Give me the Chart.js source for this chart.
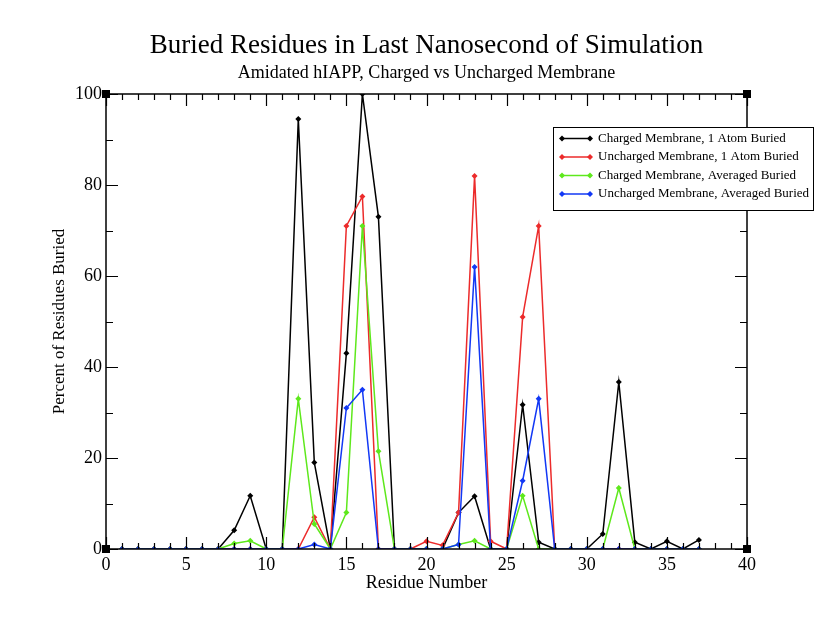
<!DOCTYPE html>
<html>
<head>
<meta charset="utf-8">
<script src="https://cdn.jsdelivr.net/npm/chart.js@4.4.1/dist/chart.umd.min.js"></script>
<style>
  html, body { margin: 0; padding: 0; background: #fff; }
  #wrap { width: 821px; height: 640px; }
</style>
</head>
<body>
<div id="wrap"><canvas id="buriedChart"></canvas></div>
<script>
        const residues = [1, 2, 3, 4, 5, 6, 7, 8, 9, 10, 11, 12, 13, 14, 15, 16, 17, 18, 19,
            20, 21, 22, 23, 24, 25, 26, 27, 28, 29, 30, 31, 32, 33, 34, 35, 36, 37];
        const chargedOneAtom = [0, 0, 0, 0, 0, 0, 0, 4.1, 11.7, 0, 0, 94.5, 19, 0, 43, 100, 73, 0, 0,
            0, 0, 8, 11.6, 0, 0, 31.7, 1.5, 0, 0, 0, 3.3, 36.7, 1.5, 0, 1.7, 0, 2];
        const unchargedOneAtom = [0, 0, 0, 0, 0, 0, 0, 0, 0, 0, 0, 0, 7, 0, 71, 77.5, 0, 0, 0,
            1.7, 0.8, 8, 82, 1.7, 0, 51, 71, 0, 0, 0, 0, 0, 0, 0, 0, 0, 0];
        const chargedAveraged = [0, 0, 0, 0, 0, 0, 0, 1.2, 1.8, 0, 0, 33, 5.5, 0, 8, 71, 21.5, 0, 0,
            0, 0, 1, 1.8, 0, 0, 11.7, 0, 0, 0, 0, 0, 13.4, 0, 0, 0, 0, 0];
        const unchargedAveraged = [0, 0, 0, 0, 0, 0, 0, 0, 0, 0, 0, 0, 1, 0, 31, 35, 0, 0, 0,
            0, 0, 1, 62, 0, 0, 15, 33, 0, 0, 0, 0, 0, 0, 0, 0, 0, 0];
        const seriesLabels = ['Charged Membrane, 1 Atom Buried', 'Uncharged Membrane, 1 Atom Buried',
            'Charged Membrane, Averaged Buried', 'Uncharged Membrane, Averaged Buried'];
        const seriesColors = ['#000000', '#ec2b2b', '#5ee81c', '#1238f5'];
        const xTicks = [0, 5, 10, 15, 20, 25, 30, 35, 40];
        const yTicks = [0, 20, 40, 60, 80, 100];

        const serif = '"Liberation Serif", "DejaVu Serif", serif';

        function toPoints(values) {
            return residues.map((r, i) => ({ x: r, y: values[i] }));
        }

        // xmgrace style frame: inward ticks on all four sides, corner squares
        const framePlugin = {
            id: 'frame',
            afterDatasetsDraw(chart) {
                const { ctx, chartArea: a, scales: { x, y } } = chart;
                ctx.save();
                ctx.strokeStyle = '#000';
                ctx.lineWidth = 1.5;
                ctx.strokeRect(a.left, a.top, a.right - a.left, a.bottom - a.top);
                ctx.lineWidth = 1.2;
                ctx.beginPath();
                for (let v = 0; v <= 40; v++) {
                    const px = Math.round(x.getPixelForValue(v)) + 0.5;
                    const len = v % 5 === 0 ? 12 : 6;
                    ctx.moveTo(px, a.bottom); ctx.lineTo(px, a.bottom - len);
                    ctx.moveTo(px, a.top); ctx.lineTo(px, a.top + len);
                }
                for (let v = 0; v <= 100; v += 10) {
                    const py = Math.round(y.getPixelForValue(v)) + 0.5;
                    const len = v % 20 === 0 ? 12 : 7;
                    ctx.moveTo(a.left, py); ctx.lineTo(a.left + len, py);
                    ctx.moveTo(a.right, py); ctx.lineTo(a.right - len, py);
                }
                ctx.stroke();
                ctx.fillStyle = '#000';
                [[a.left, a.top], [a.right, a.top], [a.left, a.bottom], [a.right, a.bottom]].forEach(c => {
                    ctx.fillRect(c[0] - 4, c[1] - 4, 8, 8);
                });
                ctx.restore();
            }
        };

        // boxed legend placed inside the upper right of the plot
        const boxLegendPlugin = {
            id: 'boxLegend',
            afterDraw(chart) {
                const ctx = chart.ctx;
                const left = 553, top = 127, w = 260, h = 83;
                ctx.save();
                ctx.fillStyle = '#fff';
                ctx.fillRect(left, top, w, h);
                ctx.strokeStyle = '#000';
                ctx.lineWidth = 1;
                ctx.strokeRect(left + 0.5, top + 0.5, w, h);
                ctx.font = '13px ' + serif;
                ctx.textBaseline = 'middle';
                chart.data.datasets.forEach((ds, i) => {
                    const yy = top + 11.5 + i * 18.5;
                    ctx.strokeStyle = ds.borderColor;
                    ctx.lineWidth = 1.5;
                    ctx.beginPath();
                    ctx.moveTo(562, yy); ctx.lineTo(590, yy);
                    ctx.stroke();
                    ctx.fillStyle = ds.borderColor;
                    [562, 590].forEach(px => {
                        ctx.beginPath();
                        ctx.moveTo(px, yy - 3); ctx.lineTo(px + 3, yy);
                        ctx.lineTo(px, yy + 3); ctx.lineTo(px - 3, yy);
                        ctx.closePath();
                        ctx.fill();
                    });
                    ctx.fillStyle = '#000';
                    ctx.fillText(ds.label, 598, yy);
                });
                ctx.restore();
            }
        };

        const buriedChart = new Chart(document.getElementById('buriedChart'), {
            type: 'line',
            data: {
                datasets: [
                    { label: seriesLabels[0], data: toPoints(chargedOneAtom), order: 3 },
                    { label: seriesLabels[1], data: toPoints(unchargedOneAtom), order: 2 },
                    { label: seriesLabels[2], data: toPoints(chargedAveraged), order: 1 },
                    { label: seriesLabels[3], data: toPoints(unchargedAveraged), order: 0 }
                ].map((ds, i) => Object.assign(ds, {
                    borderColor: seriesColors[i],
                    backgroundColor: seriesColors[i],
                    borderWidth: 1.5,
                    pointStyle: 'rectRot',
                    pointRadius: 3,
                    pointBorderWidth: 0,
                    tension: 0,
                    fill: false
                }))
            },
            options: {
                responsive: true,
                maintainAspectRatio: false,
                animation: false,
                layout: { padding: { left: 0, right: 74, top: 0, bottom: 0 } },
                plugins: {
                    legend: { display: false },
                    tooltip: { enabled: false },
                    title: {
                        display: true,
                        fullSize: false,
                        text: 'Buried Residues in Last Nanosecond of Simulation',
                        color: '#000',
                        font: { family: serif, size: 27, weight: 'normal', lineHeight: 1.2 },
                        padding: { top: 30, bottom: 0 }
                    },
                    subtitle: {
                        display: true,
                        fullSize: false,
                        text: 'Amidated hIAPP, Charged vs Uncharged Membrane',
                        color: '#000',
                        font: { family: serif, size: 18, weight: 'normal', lineHeight: 1.2 },
                        padding: { top: 0, bottom: 10 }
                    }
                },
                scales: {
                    x: {
                        type: 'linear',
                        min: 0,
                        max: 40,
                        afterBuildTicks: scale => { scale.ticks = xTicks.map(v => ({ value: v })); },
                        afterFit: scale => { scale.height = 91; },
                        ticks: { color: '#000', font: { family: serif, size: 18 }, padding: 5, maxRotation: 0 },
                        grid: { display: false, drawTicks: false },
                        border: { display: false },
                        title: {
                            display: true,
                            text: 'Residue Number',
                            color: '#000',
                            font: { family: serif, size: 18 },
                            padding: { top: 0, bottom: 46 }
                        }
                    },
                    y: {
                        min: 0,
                        max: 100,
                        afterBuildTicks: scale => { scale.ticks = yTicks.map(v => ({ value: v })); },
                        afterFit: scale => { scale.width = 106; },
                        ticks: { color: '#000', font: { family: serif, size: 18 }, padding: 4 },
                        grid: { display: false, drawTicks: false },
                        border: { display: false },
                        title: {
                            display: true,
                            text: 'Percent of Residues Buried',
                            color: '#000',
                            font: { family: serif, size: 17 },
                            padding: { top: 49, bottom: 0 }
                        }
                    }
                }
            },
            plugins: [framePlugin, boxLegendPlugin]
        });
</script>
</body>
</html>
